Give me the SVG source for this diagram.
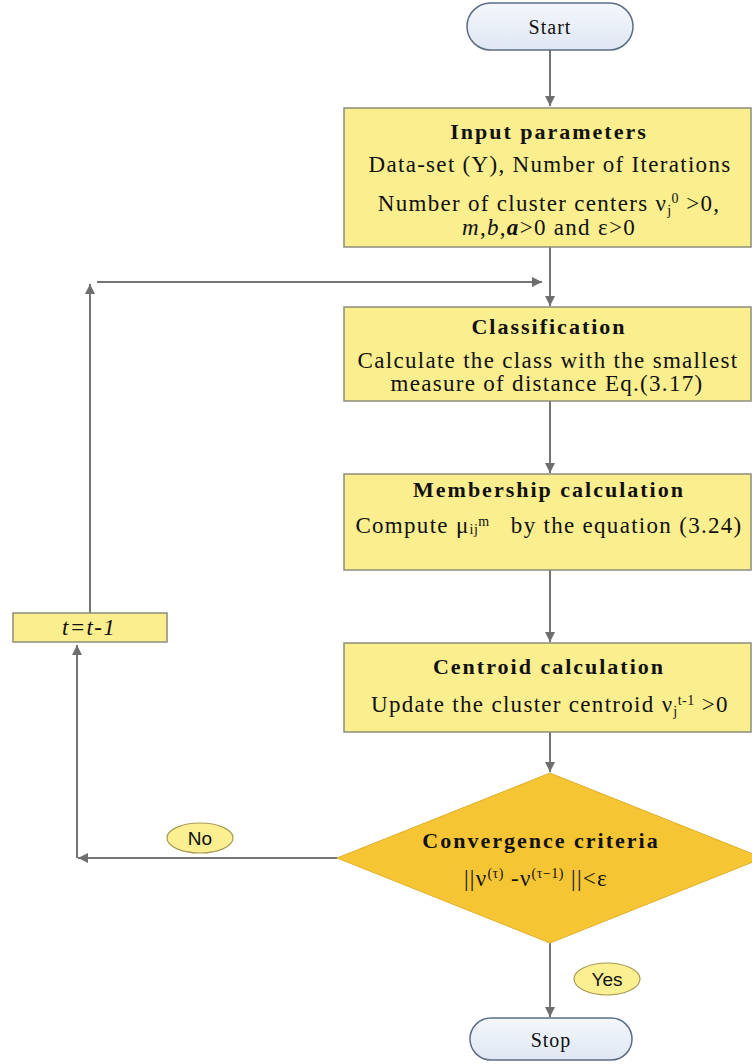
<svg xmlns="http://www.w3.org/2000/svg" width="752" height="1064" viewBox="0 0 752 1064">
  <defs>
    <linearGradient id="pillFill" x1="0" y1="0" x2="0" y2="1">
      <stop offset="0" stop-color="#f4f7fc"/>
      <stop offset="1" stop-color="#dfe7f3"/>
    </linearGradient>
    <marker id="arrow" viewBox="0 0 10 10" refX="10" refY="5" markerWidth="10" markerHeight="10" markerUnits="userSpaceOnUse" orient="auto">
      <path d="M0,0 L10,5 L0,10 Z" fill="#6e6e6e"/>
    </marker>
    <style>
      .pill { fill: url(#pillFill); stroke: #5b6e86; stroke-width: 1.5; }
      .box { fill: #fbee8e; stroke: #8c8c7c; stroke-width: 1.5; }
      .diamond { fill: #f6c534; stroke: #e0b030; stroke-width: 1; }
      .tag { fill: #fcef92; stroke: #a89a50; stroke-width: 1.2; }
      .conn { fill: none; stroke: #747474; stroke-width: 2; }
      text { font-family: "Liberation Serif", "Times New Roman", serif; fill: #111; text-anchor: middle; }
      .head { font-weight: bold; font-size: 22px; letter-spacing: 2px; }
      .body { font-size: 23px; letter-spacing: 1.3px; }
      .sup { font-size: 14px; letter-spacing: 0.5px; }
      .term { font-size: 20px; letter-spacing: 1px; }
      .sans { font-family: "Liberation Sans", Arial, sans-serif; font-size: 19px; fill: #111; }
    </style>
  </defs>

  <!-- connectors -->
  <g id="connectors">
    <line class="conn" x1="550" y1="50" x2="550" y2="106" marker-end="url(#arrow)"/>
    <line class="conn" x1="550" y1="247" x2="550" y2="306" marker-end="url(#arrow)"/>
    <line class="conn" x1="550" y1="401" x2="550" y2="473" marker-end="url(#arrow)"/>
    <line class="conn" x1="550" y1="570" x2="550" y2="642" marker-end="url(#arrow)"/>
    <line class="conn" x1="550" y1="732" x2="550" y2="772" marker-end="url(#arrow)"/>
    <line class="conn" x1="550" y1="943" x2="550" y2="1017" marker-end="url(#arrow)"/>
    <!-- "No" branch back to the counter box -->
    <line class="conn" x1="337" y1="858" x2="78" y2="858" marker-end="url(#arrow)"/>
    <line class="conn" x1="77" y1="858" x2="77" y2="645" marker-end="url(#arrow)"/>
    <!-- counter box back to classification -->
    <line class="conn" x1="90" y1="613" x2="90" y2="284" marker-end="url(#arrow)"/>
    <line class="conn" x1="97" y1="282" x2="542" y2="282" marker-end="url(#arrow)"/>
  </g>

  <g id="start">
    <rect class="pill" x="467" y="3" width="166" height="47" rx="23.5"/>
    <text class="term" x="550" y="34">Start</text>
  </g>

  <g id="input">
    <rect class="box" x="344" y="108" width="407" height="139"/>
    <text class="head" x="549" y="139">Input parameters</text>
    <text class="body" x="550" y="172">Data-set (Y), Number of Iterations</text>
    <text class="body" x="549" y="211">Number of cluster centers ν<tspan class="sup" baseline-shift="-4">j</tspan><tspan class="sup" baseline-shift="8">0</tspan> &gt;0,</text>
    <text class="body" x="549" y="235"><tspan font-style="italic">m</tspan>,<tspan font-style="italic">b</tspan>,<tspan font-style="italic" font-weight="bold">a</tspan>&gt;0 and ε&gt;0</text>
  </g>

  <g id="classification">
    <rect class="box" x="344" y="307" width="407" height="94"/>
    <text class="head" x="549" y="334">Classification</text>
    <text class="body" x="548" y="368">Calculate the class with the smallest</text>
    <text class="body" x="547" y="391">measure of distance Eq.(3.17)</text>
  </g>

  <g id="membership">
    <rect class="box" x="344" y="474" width="407" height="96"/>
    <text class="head" x="549" y="497">Membership calculation</text>
    <text class="body" x="549" y="533">Compute μ<tspan class="sup" baseline-shift="-1">ij</tspan><tspan class="sup" baseline-shift="7">m</tspan>&#160;&#160; by the equation (3.24)</text>
  </g>

  <g id="centroid">
    <rect class="box" x="344" y="643" width="407" height="89"/>
    <text class="head" x="549" y="674">Centroid calculation</text>
    <text class="body" x="550" y="712">Update the cluster centroid ν<tspan class="sup" baseline-shift="-4">j</tspan><tspan class="sup" baseline-shift="7">t-1</tspan> &gt;0</text>
  </g>

  <g id="convergence">
    <polygon class="diamond" points="550,773 763,858 550,943 337,858"/>
    <text class="head" x="541" y="848">Convergence criteria</text>
    <text class="body" x="536" y="886">||ν<tspan class="sup" baseline-shift="8">(τ)</tspan> -ν<tspan class="sup" baseline-shift="8">(τ−1)</tspan> ||&lt;ε</text>
  </g>

  <g id="counter">
    <rect class="box" x="13" y="613" width="154" height="29"/>
    <text class="body" x="89" y="635" font-style="italic">t=t-1</text>
  </g>

  <g id="no-label">
    <ellipse class="tag" cx="200" cy="838" rx="33" ry="15"/>
    <text class="sans" x="200" y="845">No</text>
  </g>

  <g id="yes-label">
    <ellipse class="tag" cx="607" cy="979" rx="33" ry="16"/>
    <text class="sans" x="607" y="986">Yes</text>
  </g>

  <g id="stop">
    <rect class="pill" x="470" y="1018" width="162" height="42" rx="21"/>
    <text class="term" x="551" y="1047">Stop</text>
  </g>
</svg>
